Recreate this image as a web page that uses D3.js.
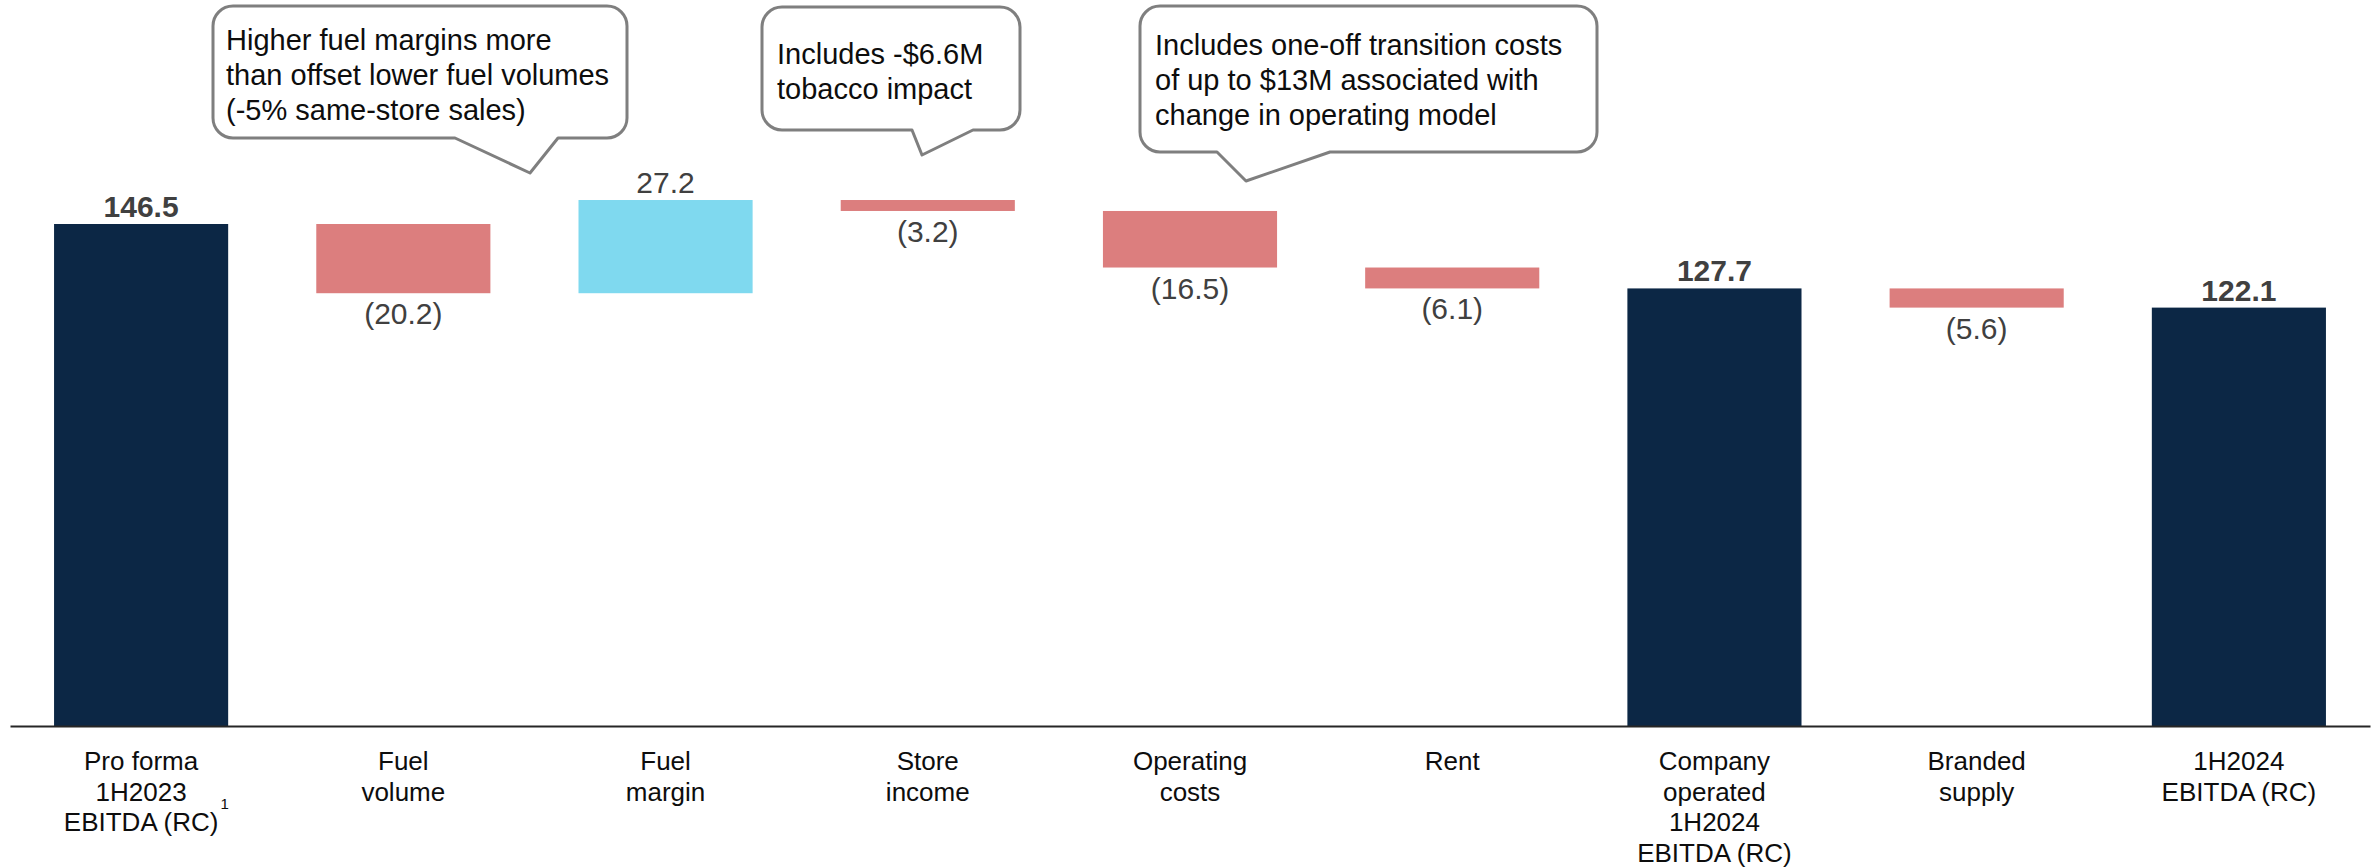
<!DOCTYPE html>
<html>
<head>
<meta charset="utf-8">
<script src="https://cdn.jsdelivr.net/npm/d3@7"></script>
<style>
  html, body { margin: 0; padding: 0; background: #fff; }
  svg { display: block; }
  text { font-family: "Liberation Sans", Arial, sans-serif; }
</style>
</head>
<body>
<div id="chart"></div>
<script>
// EBITDA bridge, 1H2023 -> 1H2024 (A$M)
const categories = [
  "Pro forma\n1H2023\nEBITDA (RC)",
  "Fuel\nvolume",
  "Fuel\nmargin",
  "Store\nincome",
  "Operating\ncosts",
  "Rent",
  "Company\noperated\n1H2024\nEBITDA (RC)",
  "Branded\nsupply",
  "1H2024\nEBITDA (RC)"
];
const values = [146.5, -20.2, 27.2, -3.2, -16.5, -6.1, 127.7, -5.6, 122.1];
const barTypes = ["total", "delta", "delta", "delta", "delta", "delta", "total", "delta", "total"];
const footnotes = ["1", "", "", "", "", "", "", "", ""];

// Callout texts, one per annotated step
const calloutTexts = [
  ["Higher fuel margins more", "than offset lower fuel volumes", "(-5% same-store sales)"],
  ["Includes -$6.6M", "tobacco impact"],
  ["Includes one-off transition costs", "of up to $13M associated with", "change in operating model"]
];

// Callout geometry (box, pointer base on the bottom edge, pointer tip)
const calloutLayout = [
  { x: 213, y: 6, w: 414, h: 132, baseL: 455, baseR: 558, tipX: 530, tipY: 173, textX: 226, firstBaseline: 50 },
  { x: 762, y: 7, w: 258, h: 123, baseL: 912, baseR: 973, tipX: 922, tipY: 155, textX: 777, firstBaseline: 64 },
  { x: 1140, y: 6, w: 457, h: 146, baseL: 1217, baseR: 1330, tipX: 1246, tipY: 181, textX: 1155, firstBaseline: 55 }
];

const W = 2374, H = 867;
const colors = { total: "#0c2745", down: "#dc7e7e", up: "#7fd9ef" };

const svg = d3.select("#chart").append("svg")
  .attr("width", W).attr("height", H)
  .attr("viewBox", `0 0 ${W} ${H}`);

const x = d3.scaleBand()
  .domain(categories)
  .range([10, 2370])
  .paddingInner(0.336)
  .paddingOuter(0.168);

const y = d3.scaleLinear()
  .domain([0, 146.5])
  .range([726, 224]);

// Waterfall extents
let running = 0;
const bars = categories.map((c, i) => {
  const v = values[i];
  let lo, hi, kind;
  if (barTypes[i] === "total") {
    lo = 0; hi = v; running = v; kind = "total";
  } else {
    const start = running, end = running + v;
    lo = Math.min(start, end); hi = Math.max(start, end);
    running = end; kind = v < 0 ? "down" : "up";
  }
  return { cat: c, value: v, lo, hi, kind };
});

// Bars
svg.append("g").selectAll("rect")
  .data(bars)
  .join("rect")
  .attr("x", d => x(d.cat))
  .attr("width", x.bandwidth())
  .attr("y", d => y(d.hi))
  .attr("height", d => y(d.lo) - y(d.hi))
  .attr("fill", d => colors[d.kind]);

// Value labels
svg.append("g").selectAll("text")
  .data(bars)
  .join("text")
  .attr("x", d => x(d.cat) + x.bandwidth() / 2)
  .attr("y", d => d.kind === "down" ? y(d.lo) + 31 : y(d.hi) - 7)
  .attr("text-anchor", "middle")
  .attr("font-size", 30)
  .attr("font-weight", d => d.kind === "total" ? "bold" : "normal")
  .attr("fill", "#404040")
  .text(d => d.value < 0 ? `(${Math.abs(d.value).toFixed(1)})` : d.value.toFixed(1));

// Category axis
const axis = svg.append("g")
  .attr("transform", "translate(0,726)")
  .call(d3.axisBottom(x).tickSize(0).tickFormat(""));
axis.select(".domain").attr("stroke", "#262626").attr("stroke-width", 2);

const labelG = svg.append("g");
categories.forEach((c, i) => {
  const cx = x(c) + x.bandwidth() / 2;
  const lines = c.split("\n");
  const t = labelG.append("text")
    .attr("text-anchor", "middle")
    .attr("font-size", 26)
    .attr("fill", "#0d0d0d");
  lines.forEach((ln, j) => {
    t.append("tspan").attr("x", cx).attr("y", 770 + j * 30.5).text(ln);
  });
  if (footnotes[i]) {
    const last = t.selectAll("tspan").nodes().pop();
    const len = last.getComputedTextLength();
    labelG.append("text")
      .attr("x", cx + len / 2 + 2)
      .attr("y", 770 + (lines.length - 1) * 30.5 - 22)
      .attr("font-size", 15)
      .attr("fill", "#0d0d0d")
      .text(footnotes[i]);
  }
});

// Callouts
function calloutPath(b) {
  const r = 20, x0 = b.x, y0 = b.y, x1 = b.x + b.w, y1 = b.y + b.h;
  return [
    `M${x0 + r},${y0}`,
    `L${x1 - r},${y0}`,
    `A${r},${r} 0 0 1 ${x1},${y0 + r}`,
    `L${x1},${y1 - r}`,
    `A${r},${r} 0 0 1 ${x1 - r},${y1}`,
    `L${b.baseR},${y1}`,
    `L${b.tipX},${b.tipY}`,
    `L${b.baseL},${y1}`,
    `L${x0 + r},${y1}`,
    `A${r},${r} 0 0 1 ${x0},${y1 - r}`,
    `L${x0},${y0 + r}`,
    `A${r},${r} 0 0 1 ${x0 + r},${y0}`,
    "Z"
  ].join(" ");
}

const callouts = svg.append("g").selectAll("g")
  .data(calloutTexts.map((lines, i) => ({ lines, geo: calloutLayout[i] })))
  .join("g");

callouts.append("path")
  .attr("d", d => calloutPath(d.geo))
  .attr("fill", "#fff")
  .attr("stroke", "#7f7f7f")
  .attr("stroke-width", 3)
  .attr("stroke-linejoin", "round");

callouts.append("text")
  .attr("font-size", 29)
  .attr("fill", "#0d0d0d")
  .each(function (d) {
    const t = d3.select(this);
    d.lines.forEach((ln, j) => {
      t.append("tspan")
        .attr("x", d.geo.textX)
        .attr("y", d.geo.firstBaseline + j * 35)
        .text(ln);
    });
  });
</script>
</body>
</html>
